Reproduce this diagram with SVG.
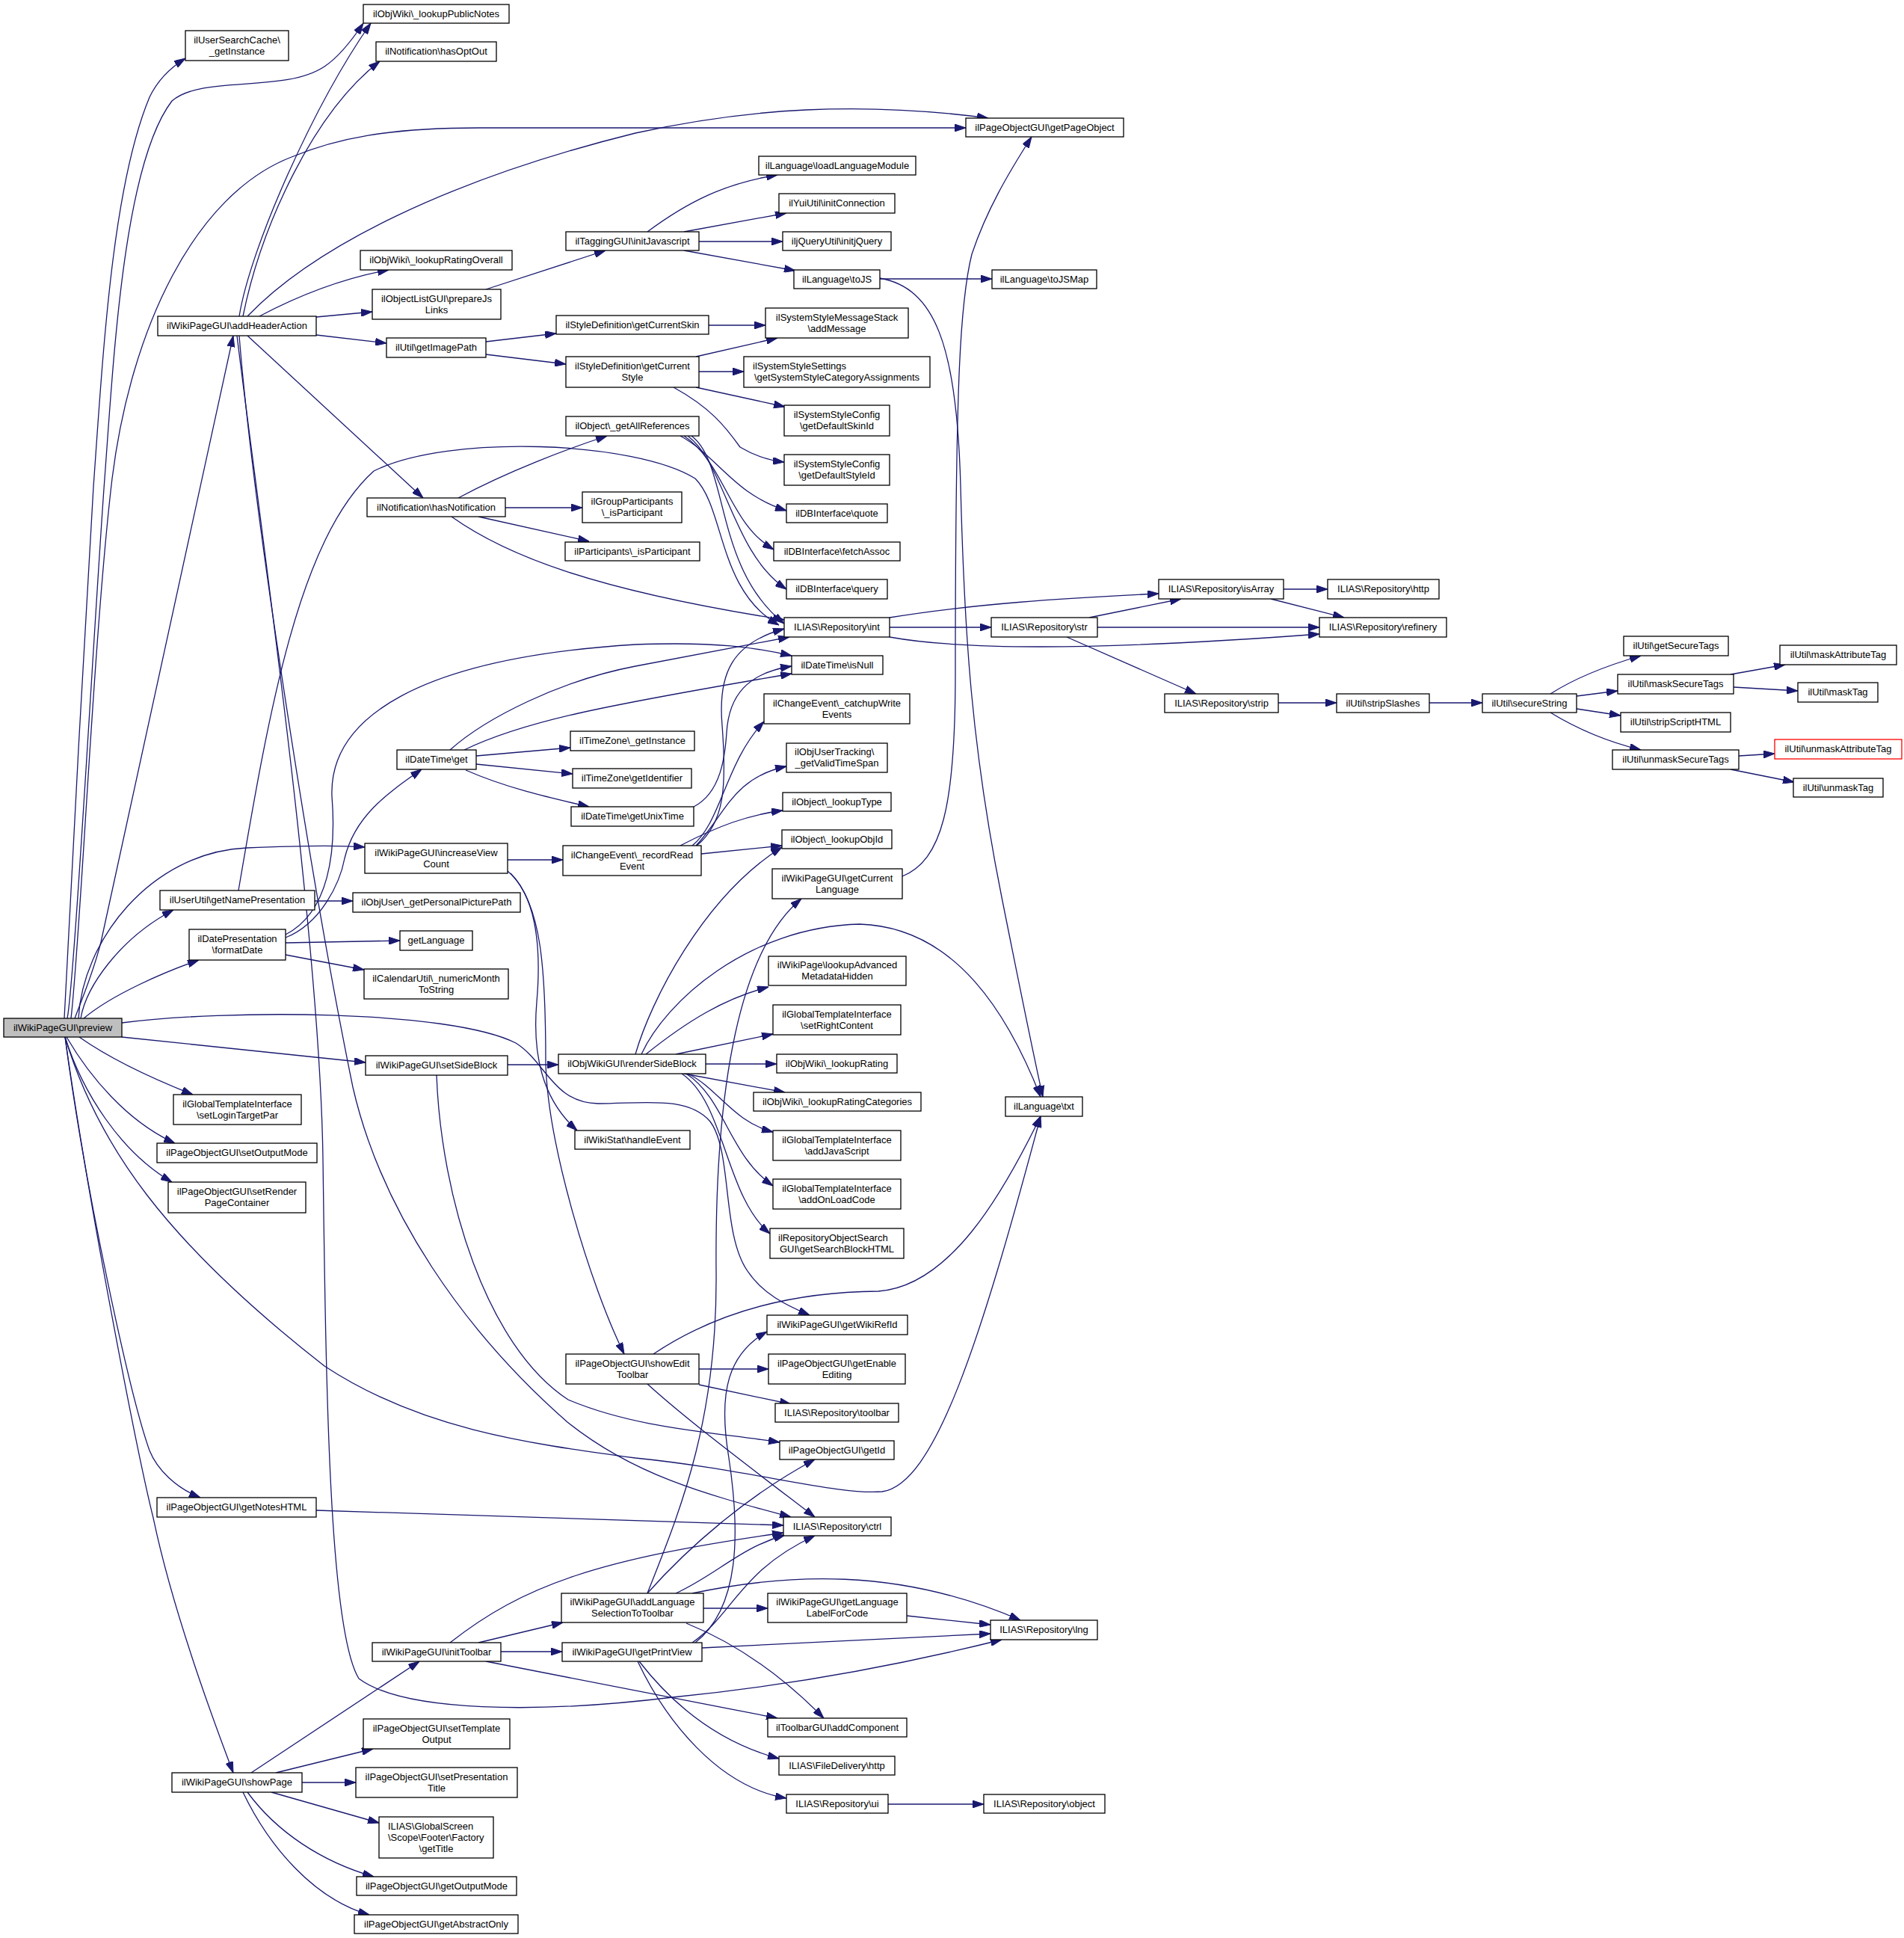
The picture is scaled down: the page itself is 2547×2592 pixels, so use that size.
<svg xmlns="http://www.w3.org/2000/svg" width="2547" height="2592" viewBox="0 0 2547 2592">
<defs>
<style>
.n rect{fill:#fff;stroke:#000;stroke-width:1.3}
.n text{font-family:"Liberation Sans",Arial,Helvetica,sans-serif;font-size:13px;fill:#000;text-anchor:middle}
.n text.l{text-anchor:start}
#n_preview rect{fill:#bfbfbf}
#n_unmaskAttributeTag rect{stroke:#ff0000}
#edges path{fill:none;stroke:#191970;stroke-width:1.3;marker-end:url(#ah)}
</style>
<marker id="ah" markerUnits="userSpaceOnUse" markerWidth="15" markerHeight="10" refX="15" refY="5" orient="auto" viewBox="0 0 15 10"><path d="M0,0 L15,5 L0,10 z" fill="#191970" stroke="#191970" stroke-width="1"/></marker>
</defs>
<rect x="0" y="0" width="2547" height="2592" fill="#fff"/>
<g id="edges">
<path d="M86,1362 C92,1250 115,800 125,651 C138,470 150,250 200,130 C212,105 232,88 248,78"/>
<path d="M90,1362 C100,1310 128,800 140,640 C152,480 165,220 230,135 C270,100 380,125 434,89 C455,75 472,52 486,31"/>
<path d="M95,1362 C108,1250 125,850 150,640 C175,440 260,260 390,210 C450,185 520,171 640,171 L1292,171"/>
<path d="M100,1362 C112,1330 125,1300 135,1260 L312,449"/>
<path d="M105,1362 C110,1260 200,1140 330,1134 C400,1131 450,1130 488,1133"/>
<path d="M108,1362 C115,1320 160,1255 232,1217"/>
<path d="M112,1362 C150,1330 220,1300 266,1284"/>
<path d="M163,1387 L489,1421"/>
<path d="M106,1387 C150,1418 210,1445 258,1464"/>
<path d="M89,1387 C120,1440 170,1500 234,1529"/>
<path d="M87,1387 C110,1460 160,1540 230,1581"/>
<path d="M87,1387 C115,1600 175,1870 200,1940 C210,1965 235,1990 268,2003"/>
<path d="M87,1387 C120,1620 185,1950 205,2030 C230,2150 285,2300 312,2371"/>
<path d="M87,1387 C130,1530 220,1660 434,1827 C560,1910 700,1930 850,1950 C1000,1965 1120,2000 1180,1995 C1250,1985 1310,1800 1392,1493"/>
<path d="M163,1368 C300,1350 600,1350 690,1395 C730,1420 740,1475 800,1476 C860,1476 920,1465 950,1500 C980,1540 965,1650 1000,1700 C1020,1730 1050,1745 1083,1759"/>
<path d="M679,1165 C715,1195 725,1260 718,1340 C712,1410 725,1470 772,1512"/>
<path d="M683,1168 C725,1210 730,1300 730,1420 C732,1530 790,1720 835,1811"/>
<path d="M320,423 C335,330 420,140 496,31"/>
<path d="M325,423 C350,300 420,150 508,82"/>
<path d="M331,423 C420,330 600,240 850,178 C1000,145 1150,135 1322,158"/>
<path d="M347,423 C400,395 460,372 520,361"/>
<path d="M423,424 L498,417"/>
<path d="M423,448 L517,459"/>
<path d="M331,449 L566,666"/>
<path d="M320,449 C340,700 420,1200 472,1454 C510,1620 620,1780 759,1902 C850,1975 950,2000 1058,2029"/>
<path d="M317,449 C345,680 428,1250 432,1550 C436,1850 440,2180 480,2245 C540,2290 720,2292 900,2270 C1050,2255 1200,2228 1340,2193"/>
<path d="M319,1191 C360,950 400,720 500,630 C600,580 850,590 930,640 C970,680 960,790 1042,836"/>
<path d="M421,1205 L472,1205"/>
<path d="M613,666 C680,630 760,600 812,583"/>
<path d="M676,679 L779,679"/>
<path d="M640,691 L788,724"/>
<path d="M604,691 C680,745 800,790 1049,829"/>
<path d="M910,583 C960,610 980,660 1052,683"/>
<path d="M915,583 C970,620 975,700 1035,735"/>
<path d="M920,583 C970,620 980,740 1052,788"/>
<path d="M925,583 C975,620 955,760 1049,834"/>
<path d="M382,1254 C430,1235 455,1180 461,1148 C475,1090 520,1060 564,1029"/>
<path d="M382,1250 C440,1220 450,1140 444,1065 C440,960 560,880 850,862 C960,858 1010,866 1059,877"/>
<path d="M382,1261 L535,1258"/>
<path d="M382,1277 L487,1297"/>
<path d="M602,1003 C650,960 750,910 850,891 L1056,852"/>
<path d="M621,1003 C700,965 800,945 1059,901"/>
<path d="M637,1011 L763,1000"/>
<path d="M637,1022 L766,1035"/>
<path d="M623,1030 C680,1055 740,1068 788,1079"/>
<path d="M928,1079 C965,1060 970,1010 972,980 C975,930 1000,900 1059,891"/>
<path d="M932,1131 C970,1100 972,1050 966,970 C960,900 980,860 1049,841"/>
<path d="M926,1131 C965,1100 970,1020 1022,965"/>
<path d="M931,1131 C970,1090 980,1040 1052,1025"/>
<path d="M910,1131 C960,1105 1000,1090 1047,1084"/>
<path d="M938,1142 L1046,1131"/>
<path d="M679,1150 L753,1150"/>
<path d="M850,1410 C870,1340 940,1200 1046,1133"/>
<path d="M858,1410 C890,1340 1000,1240 1150,1236 C1280,1240 1350,1360 1392,1467"/>
<path d="M864,1410 C920,1365 970,1335 1028,1320"/>
<path d="M904,1410 L1034,1383"/>
<path d="M944,1423 L1039,1423"/>
<path d="M915,1436 L1050,1461"/>
<path d="M920,1436 C960,1455 980,1500 1034,1514"/>
<path d="M918,1436 C970,1470 975,1545 1034,1586"/>
<path d="M912,1436 C970,1475 970,1600 1030,1650"/>
<path d="M679,1424 L747,1424"/>
<path d="M584,1438 C590,1600 650,1800 760,1872 C850,1910 950,1915 1043,1929"/>
<path d="M935,1831 L1028,1831"/>
<path d="M935,1852 L1058,1878"/>
<path d="M866,1851 C920,1900 1000,1960 1090,2029"/>
<path d="M874,1811 C950,1760 1050,1728 1175,1727 C1270,1720 1340,1600 1392,1493"/>
<path d="M866,2131 C910,2020 960,1900 958,1700 C956,1450 990,1270 1072,1202"/>
<path d="M866,2131 C920,2070 1000,2000 1090,1952"/>
<path d="M904,2131 C960,2105 990,2070 1050,2053"/>
<path d="M941,2151 L1027,2151"/>
<path d="M926,2131 C1050,2105 1200,2095 1365,2167"/>
<path d="M918,2171 C990,2200 1050,2245 1102,2298"/>
<path d="M930,2197 C990,2150 990,2050 975,1950 C960,1860 975,1810 1026,1781"/>
<path d="M926,2197 C980,2160 990,2100 1090,2054"/>
<path d="M939,2204 L1325,2185"/>
<path d="M855,2222 C900,2280 960,2330 1042,2352"/>
<path d="M853,2222 C890,2300 960,2390 1052,2405"/>
<path d="M640,2197 L753,2170"/>
<path d="M670,2209 L752,2209"/>
<path d="M602,2197 C700,2120 800,2085 1048,2050"/>
<path d="M650,2222 L1040,2298"/>
<path d="M1213,2161 L1325,2173"/>
<path d="M1188,2413 L1316,2413"/>
<path d="M423,2020 L1048,2040"/>
<path d="M336,2371 L561,2222"/>
<path d="M369,2371 L499,2339"/>
<path d="M404,2384 L476,2384"/>
<path d="M363,2397 L507,2438"/>
<path d="M331,2397 C370,2450 430,2490 500,2510"/>
<path d="M325,2397 C360,2470 420,2540 494,2561"/>
<path d="M650,387 L810,335"/>
<path d="M650,457 L744,446"/>
<path d="M650,474 L757,487"/>
<path d="M866,310 C920,270 970,245 1040,234"/>
<path d="M915,310 L1052,285"/>
<path d="M935,323 L1047,323"/>
<path d="M915,335 L1064,362"/>
<path d="M1177,373 L1327,373"/>
<path d="M1177,372 C1250,385 1280,460 1285,650 C1290,850 1300,1000 1340,1200 C1360,1300 1380,1400 1395,1467"/>
<path d="M1207,1172 C1260,1150 1278,1080 1278,900 C1278,500 1285,400 1300,340 C1320,280 1350,230 1380,183"/>
<path d="M948,435 L1024,435"/>
<path d="M931,477 L1040,452"/>
<path d="M935,497 L995,497"/>
<path d="M931,518 L1050,544"/>
<path d="M901,518 C950,545 970,570 990,598 C1010,610 1030,616 1049,618"/>
<path d="M1190,839 L1326,839"/>
<path d="M1190,826 C1300,808 1420,800 1550,794"/>
<path d="M1190,852 C1300,872 1500,868 1765,848"/>
<path d="M1457,826 L1580,801"/>
<path d="M1468,839 L1765,839"/>
<path d="M1427,852 L1600,928"/>
<path d="M1717,788 L1776,788"/>
<path d="M1700,801 L1798,826"/>
<path d="M1710,940 L1788,940"/>
<path d="M1912,940 L1983,940"/>
<path d="M2074,928 C2110,905 2150,890 2195,877"/>
<path d="M2109,931 L2164,924"/>
<path d="M2109,948 L2168,957"/>
<path d="M2074,953 C2110,975 2150,992 2195,1003"/>
<path d="M2315,902 L2388,889"/>
<path d="M2319,919 L2405,924"/>
<path d="M2326,1011 L2374,1008"/>
<path d="M2315,1029 L2400,1046"/>
</g>
<g id="n_preview" class="n"><rect x="5" y="1362" width="158" height="25"/><text x="84" y="1379">ilWikiPageGUI\preview</text></g>
<g id="n_getInstance" class="n"><rect x="248" y="41" width="138" height="40"/><text x="317" y="57.5">ilUserSearchCache\</text><text x="317" y="72.5">_getInstance</text></g>
<g id="n_lookupPublicNotes" class="n"><rect x="486" y="6" width="195" height="25"/><text x="583.5" y="23">ilObjWiki\_lookupPublicNotes</text></g>
<g id="n_hasOptOut" class="n"><rect x="503" y="56" width="161" height="26"/><text x="583.5" y="73">ilNotification\hasOptOut</text></g>
<g id="n_getPageObject" class="n"><rect x="1292" y="158" width="211" height="25"/><text x="1397.5" y="175">ilPageObjectGUI\getPageObject</text></g>
<g id="n_loadLanguageModule" class="n"><rect x="1015" y="209" width="210" height="25"/><text x="1120" y="226">ilLanguage\loadLanguageModule</text></g>
<g id="n_initConnection" class="n"><rect x="1042" y="259" width="155" height="26"/><text x="1119.5" y="276">ilYuiUtil\initConnection</text></g>
<g id="n_initJavascript" class="n"><rect x="757" y="310" width="178" height="25"/><text x="846" y="327">ilTaggingGUI\initJavascript</text></g>
<g id="n_initjQuery" class="n"><rect x="1047" y="310" width="145" height="25"/><text x="1119.5" y="327">iljQueryUtil\initjQuery</text></g>
<g id="n_lookupRatingOverall" class="n"><rect x="482" y="335" width="203" height="26"/><text x="583.5" y="352">ilObjWiki\_lookupRatingOverall</text></g>
<g id="n_toJS" class="n"><rect x="1062" y="361" width="115" height="25"/><text x="1119.5" y="378">ilLanguage\toJS</text></g>
<g id="n_toJSMap" class="n"><rect x="1327" y="361" width="140" height="25"/><text x="1397" y="378">ilLanguage\toJSMap</text></g>
<g id="n_prepareJsLinks" class="n"><rect x="498" y="387" width="172" height="40"/><text x="584" y="403.5">ilObjectListGUI\prepareJs</text><text x="584" y="418.5">Links</text></g>
<g id="n_addMessage" class="n"><rect x="1024" y="412" width="191" height="40"/><text x="1119.5" y="428.5">ilSystemStyleMessageStack</text><text x="1119.5" y="443.5">\addMessage</text></g>
<g id="n_getCurrentSkin" class="n"><rect x="744" y="422" width="204" height="25"/><text x="846" y="439">ilStyleDefinition\getCurrentSkin</text></g>
<g id="n_addHeaderAction" class="n"><rect x="211" y="423" width="212" height="26"/><text x="317" y="440">ilWikiPageGUI\addHeaderAction</text></g>
<g id="n_getImagePath" class="n"><rect x="517" y="452" width="133" height="26"/><text x="583.5" y="469">ilUtil\getImagePath</text></g>
<g id="n_getCurrentStyle" class="n"><rect x="757" y="477" width="178" height="41"/><text x="846" y="493.5">ilStyleDefinition\getCurrent</text><text x="846" y="508.5">Style</text></g>
<g id="n_SystemStyleSettings" class="n"><rect x="995" y="477" width="249" height="41"/><text class="l" x="1007" y="493.5">ilSystemStyleSettings</text><text x="1119.5" y="508.5">\getSystemStyleCategoryAssignments</text></g>
<g id="n_getDefaultSkinId" class="n"><rect x="1049" y="542" width="141" height="41"/><text x="1119.5" y="558.5">ilSystemStyleConfig</text><text x="1119.5" y="573.5">\getDefaultSkinId</text></g>
<g id="n_getAllReferences" class="n"><rect x="757" y="557" width="178" height="26"/><text x="846" y="574">ilObject\_getAllReferences</text></g>
<g id="n_getDefaultStyleId" class="n"><rect x="1049" y="608" width="141" height="41"/><text x="1119.5" y="624.5">ilSystemStyleConfig</text><text x="1119.5" y="639.5">\getDefaultStyleId</text></g>
<g id="n_hasNotification" class="n"><rect x="491" y="666" width="185" height="25"/><text x="583.5" y="683">ilNotification\hasNotification</text></g>
<g id="n_GroupParticipants" class="n"><rect x="779" y="658" width="133" height="41"/><text x="845.5" y="674.5">ilGroupParticipants</text><text x="845.5" y="689.5">\_isParticipant</text></g>
<g id="n_quote" class="n"><rect x="1052" y="674" width="135" height="25"/><text x="1119.5" y="691">ilDBInterface\quote</text></g>
<g id="n_Participants" class="n"><rect x="756" y="725" width="180" height="25"/><text x="846" y="742">ilParticipants\_isParticipant</text></g>
<g id="n_fetchAssoc" class="n"><rect x="1035" y="725" width="169" height="25"/><text x="1119.5" y="742">ilDBInterface\fetchAssoc</text></g>
<g id="n_query" class="n"><rect x="1052" y="775" width="135" height="26"/><text x="1119.5" y="792">ilDBInterface\query</text></g>
<g id="n_isArray" class="n"><rect x="1550" y="775" width="167" height="26"/><text x="1633.5" y="792">ILIAS\Repository\isArray</text></g>
<g id="n_http" class="n"><rect x="1776" y="775" width="149" height="26"/><text x="1850.5" y="792">ILIAS\Repository\http</text></g>
<g id="n_int" class="n"><rect x="1049" y="826" width="141" height="26"/><text x="1119.5" y="843">ILIAS\Repository\int</text></g>
<g id="n_str" class="n"><rect x="1326" y="826" width="142" height="26"/><text x="1397" y="843">ILIAS\Repository\str</text></g>
<g id="n_refinery" class="n"><rect x="1765" y="826" width="170" height="26"/><text x="1850" y="843">ILIAS\Repository\refinery</text></g>
<g id="n_getSecureTags" class="n"><rect x="2172" y="851" width="140" height="26"/><text x="2242" y="868">ilUtil\getSecureTags</text></g>
<g id="n_maskAttributeTag" class="n"><rect x="2381" y="863" width="156" height="26"/><text x="2459" y="880">ilUtil\maskAttributeTag</text></g>
<g id="n_isNull" class="n"><rect x="1059" y="877" width="122" height="25"/><text x="1120" y="894">ilDateTime\isNull</text></g>
<g id="n_maskSecureTags" class="n"><rect x="2164" y="902" width="155" height="26"/><text x="2241.5" y="919">ilUtil\maskSecureTags</text></g>
<g id="n_maskTag" class="n"><rect x="2405" y="913" width="107" height="26"/><text x="2458.5" y="930">ilUtil\maskTag</text></g>
<g id="n_catchupWriteEvents" class="n"><rect x="1022" y="928" width="195" height="40"/><text x="1119.5" y="944.5">ilChangeEvent\_catchupWrite</text><text x="1119.5" y="959.5">Events</text></g>
<g id="n_strip" class="n"><rect x="1558" y="928" width="152" height="25"/><text x="1634" y="945">ILIAS\Repository\strip</text></g>
<g id="n_stripSlashes" class="n"><rect x="1788" y="928" width="124" height="25"/><text x="1850" y="945">ilUtil\stripSlashes</text></g>
<g id="n_secureString" class="n"><rect x="1983" y="928" width="126" height="25"/><text x="2046" y="945">ilUtil\secureString</text></g>
<g id="n_stripScriptHTML" class="n"><rect x="2168" y="953" width="147" height="26"/><text x="2241.5" y="970">ilUtil\stripScriptHTML</text></g>
<g id="n_TZgetInstance" class="n"><rect x="763" y="978" width="166" height="26"/><text x="846" y="995">ilTimeZone\_getInstance</text></g>
<g id="n_unmaskAttributeTag" class="n"><rect x="2374" y="989" width="170" height="26"/><text x="2459" y="1006">ilUtil\unmaskAttributeTag</text></g>
<g id="n_getValidTimeSpan" class="n"><rect x="1052" y="994" width="135" height="39"/><text class="l" x="1063" y="1010">ilObjUserTracking\</text><text x="1119.5" y="1025">_getValidTimeSpan</text></g>
<g id="n_dtGet" class="n"><rect x="531" y="1003" width="106" height="26"/><text x="584" y="1020">ilDateTime\get</text></g>
<g id="n_unmaskSecureTags" class="n"><rect x="2157" y="1003" width="169" height="26"/><text x="2241.5" y="1020">ilUtil\unmaskSecureTags</text></g>
<g id="n_getIdentifier" class="n"><rect x="766" y="1028" width="159" height="26"/><text x="845.5" y="1045">ilTimeZone\getIdentifier</text></g>
<g id="n_unmaskTag" class="n"><rect x="2399" y="1041" width="120" height="25"/><text x="2459" y="1058">ilUtil\unmaskTag</text></g>
<g id="n_lookupType" class="n"><rect x="1047" y="1060" width="145" height="25"/><text x="1119.5" y="1077">ilObject\_lookupType</text></g>
<g id="n_getUnixTime" class="n"><rect x="764" y="1079" width="164" height="26"/><text x="846" y="1096">ilDateTime\getUnixTime</text></g>
<g id="n_lookupObjId" class="n"><rect x="1046" y="1110" width="147" height="25"/><text x="1119.5" y="1127">ilObject\_lookupObjId</text></g>
<g id="n_increaseViewCount" class="n"><rect x="488" y="1128" width="191" height="40"/><text x="583.5" y="1144.5">ilWikiPageGUI\increaseView</text><text x="583.5" y="1159.5">Count</text></g>
<g id="n_recordReadEvent" class="n"><rect x="753" y="1131" width="185" height="40"/><text x="845.5" y="1147.5">ilChangeEvent\_recordRead</text><text x="845.5" y="1162.5">Event</text></g>
<g id="n_getCurrentLanguage" class="n"><rect x="1033" y="1162" width="174" height="40"/><text x="1120" y="1178.5">ilWikiPageGUI\getCurrent</text><text x="1120" y="1193.5">Language</text></g>
<g id="n_getNamePresentation" class="n"><rect x="214" y="1191" width="207" height="26"/><text x="317.5" y="1208">ilUserUtil\getNamePresentation</text></g>
<g id="n_getPersonalPicturePath" class="n"><rect x="472" y="1194" width="224" height="26"/><text x="584" y="1211">ilObjUser\_getPersonalPicturePath</text></g>
<g id="n_formatDate" class="n"><rect x="253" y="1243" width="129" height="41"/><text x="317.5" y="1259.5">ilDatePresentation</text><text x="317.5" y="1274.5">\formatDate</text></g>
<g id="n_getLanguage" class="n"><rect x="535" y="1245" width="97" height="26"/><text x="583.5" y="1262">getLanguage</text></g>
<g id="n_lookupAdvanced" class="n"><rect x="1028" y="1279" width="184" height="39"/><text x="1120" y="1295">ilWikiPage\lookupAdvanced</text><text x="1120" y="1310">MetadataHidden</text></g>
<g id="n_numericMonth" class="n"><rect x="487" y="1296" width="193" height="40"/><text x="583.5" y="1312.5">ilCalendarUtil\_numericMonth</text><text x="583.5" y="1327.5">ToString</text></g>
<g id="n_setRightContent" class="n"><rect x="1034" y="1344" width="171" height="40"/><text x="1119.5" y="1360.5">ilGlobalTemplateInterface</text><text x="1119.5" y="1375.5">\setRightContent</text></g>
<g id="n_renderSideBlock" class="n"><rect x="747" y="1410" width="197" height="26"/><text x="845.5" y="1427">ilObjWikiGUI\renderSideBlock</text></g>
<g id="n_lookupRating" class="n"><rect x="1039" y="1410" width="161" height="25"/><text x="1119.5" y="1427">ilObjWiki\_lookupRating</text></g>
<g id="n_setSideBlock" class="n"><rect x="489" y="1412" width="190" height="26"/><text x="584" y="1429">ilWikiPageGUI\setSideBlock</text></g>
<g id="n_lookupRatingCategories" class="n"><rect x="1008" y="1461" width="224" height="25"/><text x="1120" y="1478">ilObjWiki\_lookupRatingCategories</text></g>
<g id="n_setLoginTargetPar" class="n"><rect x="232" y="1464" width="171" height="40"/><text x="317.5" y="1480.5">ilGlobalTemplateInterface</text><text x="317.5" y="1495.5">\setLoginTargetPar</text></g>
<g id="n_txt" class="n"><rect x="1345" y="1467" width="103" height="26"/><text x="1396.5" y="1484">ilLanguage\txt</text></g>
<g id="n_handleEvent" class="n"><rect x="769" y="1512" width="154" height="25"/><text x="846" y="1529">ilWikiStat\handleEvent</text></g>
<g id="n_addJavaScript" class="n"><rect x="1034" y="1512" width="171" height="40"/><text x="1119.5" y="1528.5">ilGlobalTemplateInterface</text><text x="1119.5" y="1543.5">\addJavaScript</text></g>
<g id="n_setOutputMode" class="n"><rect x="210" y="1529" width="214" height="26"/><text x="317" y="1546">ilPageObjectGUI\setOutputMode</text></g>
<g id="n_addOnLoadCode" class="n"><rect x="1034" y="1577" width="171" height="40"/><text x="1119.5" y="1593.5">ilGlobalTemplateInterface</text><text x="1119.5" y="1608.5">\addOnLoadCode</text></g>
<g id="n_setRenderPageContainer" class="n"><rect x="225" y="1581" width="184" height="41"/><text x="317" y="1597.5">ilPageObjectGUI\setRender</text><text x="317" y="1612.5">PageContainer</text></g>
<g id="n_getSearchBlockHTML" class="n"><rect x="1030" y="1643" width="179" height="40"/><text class="l" x="1041" y="1659.5">ilRepositoryObjectSearch</text><text x="1119.5" y="1674.5">GUI\getSearchBlockHTML</text></g>
<g id="n_getWikiRefId" class="n"><rect x="1026" y="1759" width="188" height="26"/><text x="1120" y="1776">ilWikiPageGUI\getWikiRefId</text></g>
<g id="n_showEditToolbar" class="n"><rect x="757" y="1811" width="178" height="40"/><text x="846" y="1827.5">ilPageObjectGUI\showEdit</text><text x="846" y="1842.5">Toolbar</text></g>
<g id="n_getEnableEditing" class="n"><rect x="1028" y="1811" width="183" height="40"/><text x="1119.5" y="1827.5">ilPageObjectGUI\getEnable</text><text x="1119.5" y="1842.5">Editing</text></g>
<g id="n_toolbar" class="n"><rect x="1037" y="1877" width="165" height="25"/><text x="1119.5" y="1894">ILIAS\Repository\toolbar</text></g>
<g id="n_getId" class="n"><rect x="1043" y="1927" width="153" height="25"/><text x="1119.5" y="1944">ilPageObjectGUI\getId</text></g>
<g id="n_getNotesHTML" class="n"><rect x="210" y="2003" width="213" height="26"/><text x="316.5" y="2020">ilPageObjectGUI\getNotesHTML</text></g>
<g id="n_ctrl" class="n"><rect x="1048" y="2029" width="144" height="25"/><text x="1120" y="2046">ILIAS\Repository\ctrl</text></g>
<g id="n_addLanguageSelection" class="n"><rect x="751" y="2131" width="190" height="39"/><text x="846" y="2147">ilWikiPageGUI\addLanguage</text><text x="846" y="2162">SelectionToToolbar</text></g>
<g id="n_getLanguageLabel" class="n"><rect x="1027" y="2131" width="186" height="39"/><text x="1120" y="2147">ilWikiPageGUI\getLanguage</text><text x="1120" y="2162">LabelForCode</text></g>
<g id="n_lng" class="n"><rect x="1325" y="2167" width="143" height="26"/><text x="1396.5" y="2184">ILIAS\Repository\lng</text></g>
<g id="n_initToolbar" class="n"><rect x="498" y="2197" width="172" height="25"/><text x="584" y="2214">ilWikiPageGUI\initToolbar</text></g>
<g id="n_getPrintView" class="n"><rect x="752" y="2197" width="187" height="25"/><text x="845.5" y="2214">ilWikiPageGUI\getPrintView</text></g>
<g id="n_setTemplateOutput" class="n"><rect x="486" y="2299" width="196" height="40"/><text x="584" y="2315.5">ilPageObjectGUI\setTemplate</text><text x="584" y="2330.5">Output</text></g>
<g id="n_addComponent" class="n"><rect x="1027" y="2298" width="186" height="25"/><text x="1120" y="2315">ilToolbarGUI\addComponent</text></g>
<g id="n_FileDeliveryHttp" class="n"><rect x="1042" y="2349" width="155" height="25"/><text x="1119.5" y="2366">ILIAS\FileDelivery\http</text></g>
<g id="n_setPresentationTitle" class="n"><rect x="476" y="2364" width="216" height="40"/><text x="584" y="2380.5">ilPageObjectGUI\setPresentation</text><text x="584" y="2395.5">Title</text></g>
<g id="n_showPage" class="n"><rect x="230" y="2371" width="174" height="26"/><text x="317" y="2388">ilWikiPageGUI\showPage</text></g>
<g id="n_ui" class="n"><rect x="1052" y="2400" width="136" height="25"/><text x="1120" y="2417">ILIAS\Repository\ui</text></g>
<g id="n_object" class="n"><rect x="1316" y="2400" width="162" height="25"/><text x="1397" y="2417">ILIAS\Repository\object</text></g>
<g id="n_getTitle" class="n"><rect x="507" y="2430" width="153" height="55"/><text class="l" x="519" y="2447">ILIAS\GlobalScreen</text><text class="l" x="519" y="2462">\Scope\Footer\Factory</text><text x="583.5" y="2477">\getTitle</text></g>
<g id="n_getOutputMode" class="n"><rect x="477" y="2510" width="214" height="25"/><text x="584" y="2527">ilPageObjectGUI\getOutputMode</text></g>
<g id="n_getAbstractOnly" class="n"><rect x="474" y="2561" width="219" height="25"/><text x="583.5" y="2578">ilPageObjectGUI\getAbstractOnly</text></g>
</svg>
